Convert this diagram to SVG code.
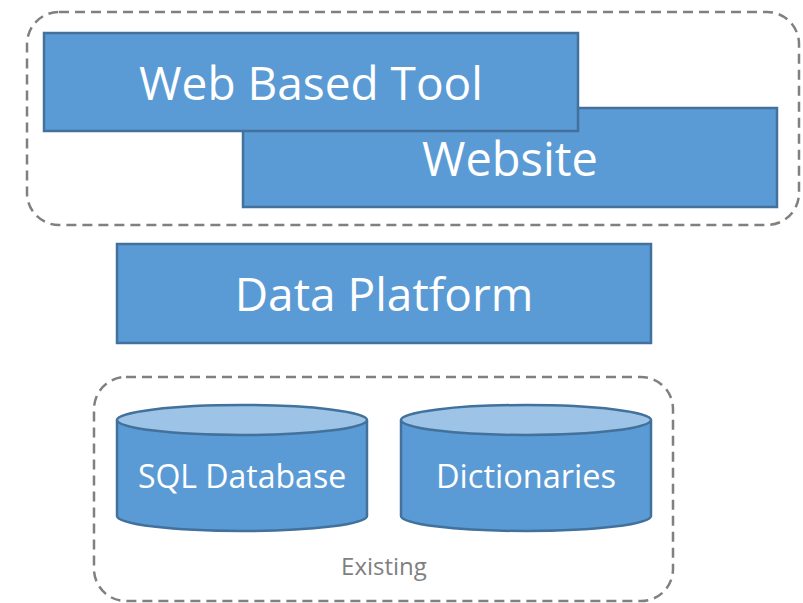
<svg xmlns="http://www.w3.org/2000/svg" width="803" height="603" viewBox="0 0 803 603">
<style>
.grp{fill:none;stroke:#808080;stroke-width:2.5;stroke-dasharray:10 6}
.box{fill:#5b9bd5;stroke:#41719c;stroke-width:2.5}
.top{fill:#9dc3e6;stroke:#41719c;stroke-width:2.5}
.lbl{font-family:"Open Sans","Noto Sans","Liberation Sans",sans-serif;fill:#ffffff;text-anchor:middle}
.cap{font-family:"Open Sans","Noto Sans","Liberation Sans",sans-serif;fill:#7f7f7f;text-anchor:middle;font-size:24px}
</style>
<rect id="frontend-group" class="grp" x="27" y="12" width="772" height="213" rx="32"/>
<rect id="existing-group" class="grp" x="94" y="377" width="579" height="224" rx="32"/>
<g id="website">
<rect class="box" x="243" y="108" width="534" height="99"/>
<text class="lbl" x="510" y="176" font-size="47">Website</text>
</g>
<g id="web-based-tool">
<rect class="box" x="44" y="33" width="534" height="98"/>
<text class="lbl" x="311" y="100" font-size="46">Web Based Tool</text>
</g>
<g id="data-platform">
<rect class="box" x="117" y="244" width="534" height="99"/>
<text class="lbl" x="384" y="311" font-size="46">Data Platform</text>
</g>
<g id="sql-database">
<path class="box" d="M117 420 V516 A125 15 0 0 0 367 516 V420"/>
<ellipse class="top" cx="242" cy="420" rx="125" ry="15"/>
<text class="lbl" x="242" y="488" font-size="32">SQL Database</text>
</g>
<g id="dictionaries">
<path class="box" d="M401 420 V516 A125 15 0 0 0 651 516 V420"/>
<ellipse class="top" cx="526" cy="420" rx="125" ry="15"/>
<text class="lbl" x="526" y="488" font-size="32.5">Dictionaries</text>
</g>
<text class="cap" x="384" y="575">Existing</text>
<g id="connectors"/>
</svg>
